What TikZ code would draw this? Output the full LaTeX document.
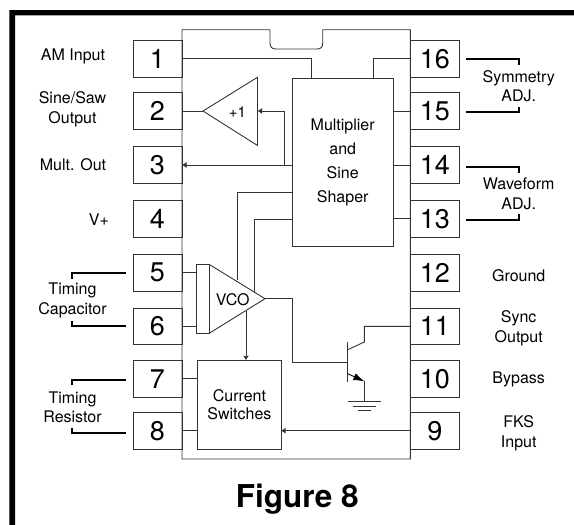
\documentclass[tikz,border=0pt]{standalone}
\usepackage{fontspec}
\setmainfont{TeX Gyre Heros}
\usetikzlibrary{arrows.meta}
\tikzset{
  wire/.style={draw=black!80,line width=0.9pt},
  arrowwire/.style={wire,-{Latex[length=4.5pt,width=6pt]}},
  adjline/.style={draw=black,line width=1.8pt},
  pinbox/.style={draw=black!80,line width=0.9pt,minimum width=49pt,minimum height=36.5pt,inner sep=0pt,outer sep=0pt,font=\fontsize{27}{28}\selectfont},
  pinlabel/.style={align=center,inner sep=0pt,font=\fontsize{16}{19.5}\selectfont},
  blocklabel/.style={draw=black!80,line width=0.9pt,align=center,inner sep=0pt,outer sep=0pt}
}
\begin{document}
\begin{tikzpicture}[x=1pt,y=1pt,yscale=-1,xscale=1]
\useasboundingbox (0,0) rectangle (574,525);
%Frame
\fill [black] (9.3,525) -- (9.3,10) -- (574,10) -- (574,15.3) -- (15,15.3) -- (15,525) -- cycle;
%Left pins
\node [pinbox] (pinA) at (157.5,58.7) {1};
\node [pinbox] (pinB) at (157.5,111) {2};
\node [pinbox] (pinC) at (157.5,165) {3};
\node [pinbox] (pinD) at (157.5,218.7) {4};
\node [pinbox] (pinE) at (157.5,272.7) {5};
\node [pinbox] (pinF) at (157.5,326.3) {6};
\node [pinbox] (pinG) at (157.5,378.7) {7};
\node [pinbox] (pinH) at (157.5,430.7) {8};
%Right pins
\node [pinbox] (pinP) at (434.8,58.7) {16};
\node [pinbox] (pinO) at (434.8,111) {15};
\node [pinbox] (pinN) at (434.8,165) {14};
\node [pinbox] (pinM) at (434.8,218.7) {13};
\node [pinbox] (pinL) at (434.8,272.7) {12};
\node [pinbox] (pinK) at (434.8,326.3) {11};
\node [pinbox] (pinJ) at (434.8,378.7) {10};
\node [pinbox] (pinI) at (434.8,430.7) {9};
%Chip outline with notch
\draw [wire] (182,459) -- (182,29.7) -- (270,29.7) -- (270,43) .. controls (270,47) and (272,49) .. (276,49) -- (317,49) .. controls (321,49) and (322.7,47) .. (322.7,43) -- (322.7,29.7) -- (410.3,29.7) -- (410.3,459) -- cycle;
%Blocks
\node [blocklabel,minimum width=100.7pt,minimum height=167.3pt,font=\fontsize{16}{24}\selectfont] (shaper) at (342.7,162.3) {Multiplier\\and\\Sine\\Shaper};
\node [blocklabel,minimum width=83.3pt,minimum height=89pt,font=\fontsize{16}{18.5}\selectfont] (switches) at (239.4,404.8) {Current\\Switches};
%Buffer
\coordinate (bufTip) at (203,111);
\coordinate (bufIn) at (257.5,111);
\draw [wire] (bufTip) -- (257.5,77.3) -- (257.5,145.5) -- cycle;
\node [inner sep=0pt,font=\fontsize{15}{16}\selectfont] (bufGain) at (237.3,112.5) {+1};
%VCO
\coordinate (vcoTip) at (265,298.7);
\node [draw=black!80,line width=0.9pt,minimum width=13pt,minimum height=68.3pt,inner sep=0pt,outer sep=0pt] (vcoBar) at (203.2,298.8) {};
\draw [wire] (209.7,264.7) -- (vcoTip) -- (209.7,333);
\node [inner sep=0pt,font=\fontsize{16}{16}\selectfont] (vcoText) at (232.7,299.5) {VCO};
%Wires on the chip
\coordinate (shaperA) at (311.3,78.7);
\coordinate (shaperB) at (373.7,78.7);
\coordinate (vcoA) at (237,279.5);
\coordinate (vcoB) at (254.5,292);
\coordinate (vcoC) at (246,311);
\coordinate (tapIn) at (284.6,165);
\draw [wire] (pinA.east) -| (shaperA);
\draw [wire] (pinP.west) -| (shaperB);
\draw [wire] (pinB.east) -- (bufTip);
\draw [wire] (pinO.west) -- (shaper.east |- pinO);
\draw [wire] (pinN.west) -- (shaper.east |- pinN);
\draw [wire] (pinM.west) -- (shaper.east |- pinM);
\draw [arrowwire] (shaper.west |- pinC) -- (pinC.east);
\draw [arrowwire] (tapIn) |- (bufIn);
\draw [wire] (shaper.west |- 0,192) -| (vcoA);
\draw [wire] (shaper.west |- 0,219) -| (vcoB);
\draw [wire] (pinE.east) -- (vcoBar.west |- pinE);
\draw [wire] (pinF.east) -- (vcoBar.west |- pinF);
\draw [arrowwire] (vcoC) -- (switches.north -| vcoC);
\draw [wire] (pinG.east) -- (switches.west |- pinG);
\draw [wire] (pinH.east) -- (switches.west |- pinH);
\draw [arrowwire] (pinI.west) -- (switches.east |- pinI);
%Transistor
\coordinate (baseIn) at (347.7,362);
\coordinate (collector) at (364.3,342);
\coordinate (emitter) at (364.3,381.3);
\coordinate (groundA) at (364.3,401.3);
\draw [wire] (vcoTip) -| (292.3,362) -- (baseIn);
\draw [wire,line width=1.1pt] (347.7,342) -- (347.7,382);
\draw [wire] (347.7,349.7) -- (collector) |- (pinK.west);
\draw [wire,-{Latex[length=11pt,width=7.5pt]},black] (347.7,373.7) -- (emitter);
\draw [wire] (emitter) -- (groundA);
\draw [wire] (347.7,401.3) -- (381.3,401.3);
\draw [wire] (352.7,406) -- (376.3,406);
\draw [wire] (358,410.7) -- (371,410.7);
%Adjust brackets
\draw [adjline] (466,58.7) -- (519.3,58.7) -- (519.3,65);
\draw [adjline] (466,112) -- (519.3,112) -- (519.3,106.7);
\draw [adjline] (466,166.7) -- (519.3,166.7) -- (519.3,173);
\draw [adjline] (466,220) -- (519.3,220) -- (519.3,214);
\draw [adjline] (125.7,273) -- (72,273) -- (72,279);
\draw [adjline] (125.7,326) -- (72,326) -- (72,321);
\draw [adjline] (125.7,379.7) -- (72,379.7) -- (72,384.7);
\draw [adjline] (125.7,433) -- (72,433) -- (72,428);
%Pin labels
\node [pinlabel] (amText) at (73,56.7) {AM Input};
\node [pinlabel] (sawText) at (72.5,109.3) {Sine/Saw\\Output};
\node [pinlabel] (multText) at (73,165) {Mult. Out};
\node [pinlabel] (vplusText) at (99,219.5) {V+};
\node [pinlabel] (capText) at (72.5,300.3) {Timing\\Capacitor};
\node [pinlabel] (resText) at (72.5,407.3) {Timing\\Resistor};
\node [pinlabel] (symText) at (518.7,86) {Symmetry\\ADJ.};
\node [pinlabel] (waveText) at (518.7,194) {Waveform\\ADJ.};
\node [pinlabel] (gndText) at (518.7,275.3) {Ground};
\node [pinlabel] (syncText) at (518.7,328.3) {Sync\\Output};
\node [pinlabel] (bypassText) at (518.7,379.7) {Bypass};
\node [pinlabel] (fksText) at (518.7,433.3) {FKS\\Input};
\node [inner sep=0pt,font=\fontsize{31.5}{32}\selectfont\bfseries] (figText) at (297.2,499) {Figure 8};
\end{tikzpicture}
\end{document}
